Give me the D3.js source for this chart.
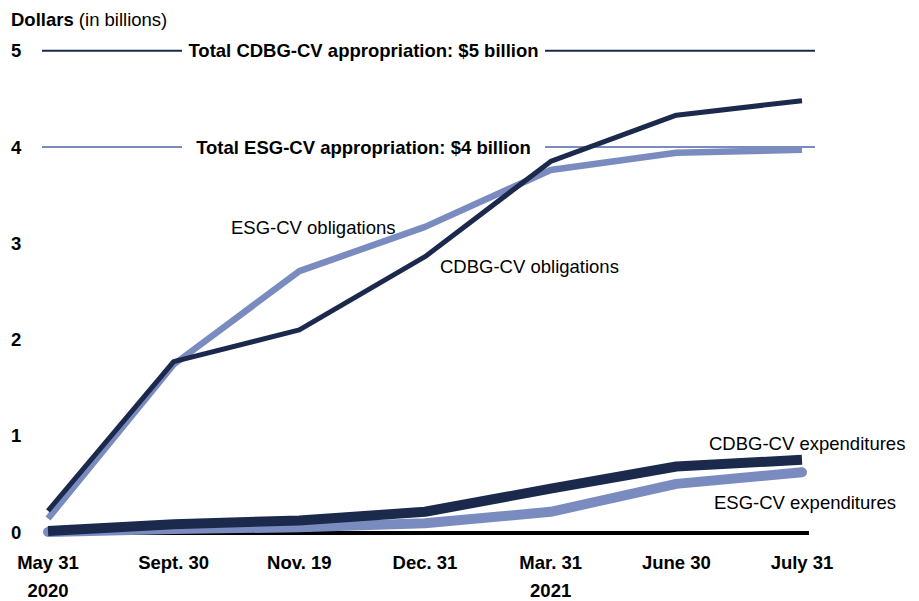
<!DOCTYPE html>
<meta charset="utf-8">
<style>
body { margin: 0; background: #fff; }
svg text { font-family: "Liberation Sans", Arial, sans-serif; fill: #000; }
.tick-label { font-size: 18.5px; font-weight: bold; }
.ref-label { font-size: 18.5px; font-weight: bold; }
.series-label { font-size: 18.5px; }
.line { fill: none; stroke-linejoin: round; }
</style>
<body>
<script src="https://cdn.jsdelivr.net/npm/d3@7"></script>
<script>

var dates = ["May 31", "Sept. 30", "Nov. 19", "Dec. 31", "Mar. 31", "June 30", "July 31"]
var years = [{at: "May 31", label: "2020"}, {at: "Mar. 31", label: "2021"}]
var yTicks = [0, 1, 2, 3, 4, 5]

var cdbgObligations = [0.22, 1.77, 2.10, 2.86, 3.85, 4.33, 4.48]
var esgObligations = [0.14, 1.74, 2.71, 3.17, 3.76, 3.94, 3.97]
var cdbgExpenditures = [0.01, 0.08, 0.12, 0.21, 0.45, 0.68, 0.75]
var esgExpenditures = [0.00, 0.03, 0.05, 0.09, 0.21, 0.50, 0.62]

var cdbgTotal = 5
var esgTotal = 4

var dark = "#1b2a4c",
    light = "#7a8cbf"

var width = 919,
    height = 601

var svg = d3.select("body").append("svg")
    .attr("width", width)
    .attr("height", height)

var x = d3.scalePoint().domain(dates).range([48, 802])
var y = d3.scaleLinear().domain([0, 5]).range([532, 50.7])

// y tick labels
svg.selectAll(".ytick")
  .data(yTicks)
  .enter().append("text")
    .attr("class", "tick-label")
    .attr("x", 11)
    .attr("y", d => y(d))
    .attr("dy", "0.36em")
    .text(d => d)

// title
var title = svg.append("text")
    .attr("x", 11)
    .attr("y", 26)
    .style("font-size", "18.5px")
title.append("tspan").style("font-weight", "bold").text("Dollars")
title.append("tspan").text(" (in billions)")

// x labels
svg.selectAll(".xtick")
  .data(dates)
  .enter().append("text")
    .attr("class", "tick-label")
    .attr("x", d => x(d))
    .attr("y", 569)
    .attr("text-anchor", "middle")
    .text(d => d)

svg.selectAll(".year")
  .data(years)
  .enter().append("text")
    .attr("class", "tick-label")
    .attr("x", d => x(d.at))
    .attr("y", 596.5)
    .attr("text-anchor", "middle")
    .text(d => d.label)

// appropriation reference lines with label gaps
var refs = [
  {value: cdbgTotal, color: dark, label: "Total CDBG-CV appropriation: $5 billion", gap: [182, 545]},
  {value: esgTotal, color: light, label: "Total ESG-CV appropriation: $4 billion", gap: [182, 545]}
]
refs.forEach(function(r) {
  svg.append("line")
    .attr("x1", 42).attr("x2", r.gap[0])
    .attr("y1", y(r.value)).attr("y2", y(r.value))
    .attr("stroke", r.color).attr("stroke-width", 2)
  svg.append("line")
    .attr("x1", r.gap[1]).attr("x2", 815)
    .attr("y1", y(r.value)).attr("y2", y(r.value))
    .attr("stroke", r.color).attr("stroke-width", 2)
  svg.append("text")
    .attr("class", "ref-label")
    .attr("x", (r.gap[0] + r.gap[1]) / 2)
    .attr("y", y(r.value))
    .attr("dy", "0.36em")
    .attr("text-anchor", "middle")
    .text(r.label)
})

// zero baseline
svg.append("line")
  .attr("x1", x(dates[0])).attr("x2", 809)
  .attr("y1", y(0) + 1).attr("y2", y(0) + 1)
  .attr("stroke", "#000").attr("stroke-width", 4)

var line = d3.line()
  .x((d, i) => x(dates[i]))
  .y(d => y(d))

var series = [
  {values: esgExpenditures, color: light, w: 10, cap: "round"},
  {values: cdbgExpenditures, color: dark, w: 10, cap: "butt"},
  {values: esgObligations, color: light, w: 6.5, cap: "butt"},
  {values: cdbgObligations, color: dark, w: 5, cap: "butt"}
]

svg.selectAll(".line")
  .data(series)
  .enter().append("path")
    .attr("class", "line")
    .attr("d", d => line(d.values))
    .attr("stroke", d => d.color)
    .attr("stroke-width", d => d.w)
    .attr("stroke-linecap", d => d.cap)

// series labels
var labels = [
  {text: "ESG-CV obligations", x: 231, y: 234},
  {text: "CDBG-CV obligations", x: 440, y: 273},
  {text: "CDBG-CV expenditures", x: 709, y: 450},
  {text: "ESG-CV expenditures", x: 714, y: 509}
]
svg.selectAll(".series-label")
  .data(labels)
  .enter().append("text")
    .attr("class", "series-label")
    .attr("x", d => d.x)
    .attr("y", d => d.y)
    .text(d => d.text)

</script>
